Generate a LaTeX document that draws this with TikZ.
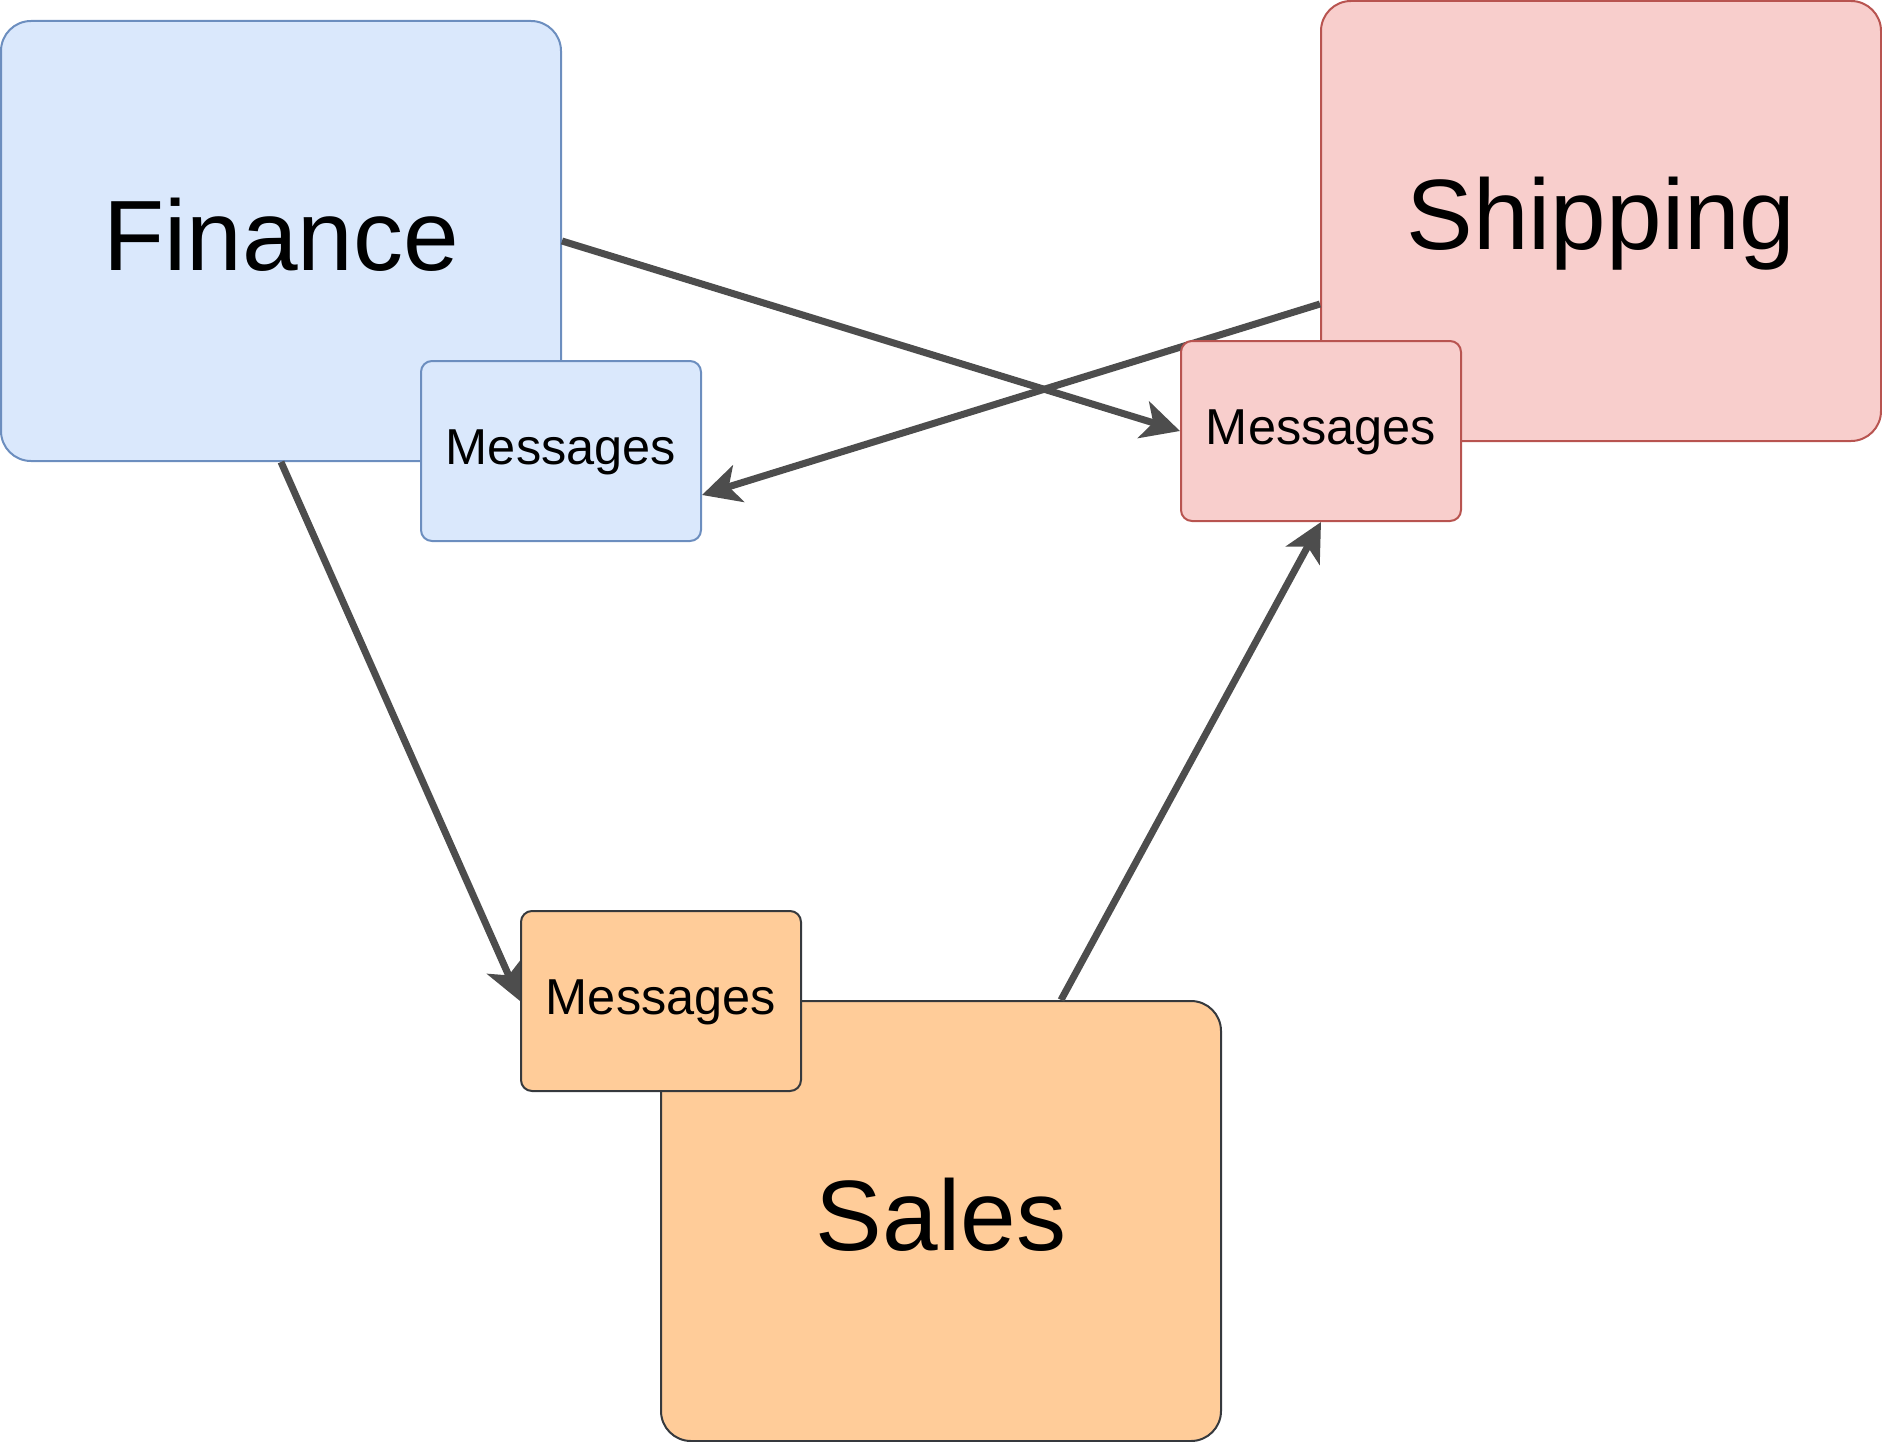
\documentclass[tikz,border=0pt]{standalone}
\usepackage{fontspec}
\setmainfont{Liberation Sans}
\usetikzlibrary{arrows.meta,calc}
\pgfdeclarelayer{back}
\pgfdeclarelayer{mid}
\pgfsetlayers{back,mid,main}
\definecolor{finfill}{HTML}{DAE8FC}
\definecolor{finline}{HTML}{6C8EBF}
\definecolor{shipfill}{HTML}{F8CECC}
\definecolor{shipline}{HTML}{B85450}
\definecolor{salesfill}{HTML}{FFCC99}
\definecolor{salesline}{HTML}{36393D}
\definecolor{arrowc}{HTML}{4D4D4D}
\begin{document}
\begin{tikzpicture}[x=1pt,y=-1pt,
  bigbox/.style={draw, line width=2pt, rounded corners=30pt, minimum width=560pt, minimum height=440pt, inner sep=0pt, font=\fontsize{100}{112}\selectfont, text height=71pt, text depth=13pt},
  msgbox/.style={draw, line width=2pt, rounded corners=11pt, minimum width=280pt, minimum height=180pt, inner sep=0pt, font=\fontsize{50.5}{60}\selectfont, text height=36pt, text depth=9pt},
  flow/.style={draw=arrowc, line width=7pt, -{Stealth[length=38pt,width=38pt,inset=10pt]}}]
\useasboundingbox (0,0) rectangle (1882,1442);
\begin{pgfonlayer}{back}
\node[bigbox, fill=finfill, draw=finline] (fin) at (281,241) {Finance};
\node[bigbox, fill=shipfill, draw=shipline] (ship) at (1601,221) {Shipping};
\node[bigbox, fill=salesfill, draw=salesline] (sales) at (941,1221) {Sales};
\end{pgfonlayer}
\node[msgbox, fill=finfill, draw=finline] (finmsg) at (561,451) {Messages};
\node[msgbox, fill=shipfill, draw=shipline] (shipmsg) at (1321,431) {Messages};
\node[msgbox, fill=salesfill, draw=salesline] (salesmsg) at (661,1001) {Messages};
\begin{pgfonlayer}{mid}
\draw[flow] (fin.east) -- (shipmsg.west);
\draw[flow] ([yshift=-83pt]ship.west) -- ([yshift=-44pt]finmsg.east);
\draw[flow] (fin.south) -- (salesmsg.west);
\draw[flow] ([xshift=120pt]sales.north) -- (shipmsg.south);
\end{pgfonlayer}
\end{tikzpicture}
\end{document}
